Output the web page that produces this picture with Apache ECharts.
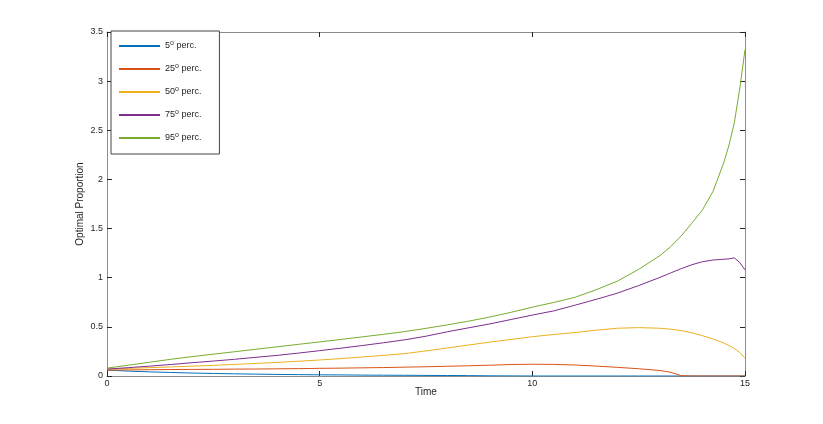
<!DOCTYPE html>
<html>
<head>
<meta charset="utf-8">
<script src="https://cdn.jsdelivr.net/npm/echarts@6/dist/echarts.min.js"></script>
<style>
  html, body { margin: 0; padding: 0; background: #fff; }
  #chart { width: 823px; height: 424px; }
</style>
</head>
<body>
<div id="chart"></div>
<script>
// time points (finer near the end where the 95th percentile shoots up)
var times = [0, 0.5, 1, 1.5, 2, 2.5, 3, 3.5, 4, 4.5, 5, 5.5, 6, 6.5, 7, 7.5, 8, 8.5, 9, 9.5,
             10, 10.5, 11, 11.5, 12, 12.5, 13, 13.25, 13.5, 13.75, 14, 14.25, 14.5, 14.625, 14.75, 14.875, 15];

var p5  = [0.060, 0.050, 0.042, 0.036, 0.030, 0.026, 0.022, 0.019, 0.016, 0.014, 0.012, 0.011, 0.009, 0.008, 0.007, 0.006, 0.005, 0.004, 0.002, 0.001,
           0, 0, 0, 0, 0, 0, 0, 0, 0, 0, 0, 0, 0, 0, 0, 0, 0];
var p25 = [0.060, 0.062, 0.064, 0.066, 0.067, 0.068, 0.070, 0.071, 0.073, 0.075, 0.078, 0.080, 0.083, 0.086, 0.090, 0.094, 0.099, 0.104, 0.110, 0.117,
           0.120, 0.118, 0.112, 0.101, 0.088, 0.074, 0.056, 0.038, 0.004, 0, 0, 0, 0, 0, 0, 0, 0];
var p50 = [0.070, 0.077, 0.085, 0.092, 0.100, 0.108, 0.118, 0.128, 0.138, 0.150, 0.163, 0.177, 0.193, 0.210, 0.228, 0.255, 0.285, 0.315, 0.345, 0.372,
           0.400, 0.422, 0.442, 0.466, 0.486, 0.492, 0.486, 0.476, 0.462, 0.440, 0.410, 0.376, 0.336, 0.310, 0.280, 0.240, 0.180];
var p75 = [0.070, 0.085, 0.100, 0.117, 0.135, 0.152, 0.170, 0.190, 0.210, 0.233, 0.258, 0.283, 0.310, 0.338, 0.368, 0.405, 0.450, 0.490, 0.530, 0.575,
           0.620, 0.662, 0.720, 0.780, 0.843, 0.920, 1.003, 1.048, 1.092, 1.132, 1.163, 1.180, 1.188, 1.192, 1.202, 1.155, 1.080];
var p95 = [0.080, 0.110, 0.140, 0.170, 0.197, 0.222, 0.247, 0.272, 0.297, 0.322, 0.347, 0.372, 0.398, 0.424, 0.452, 0.485, 0.520, 0.558, 0.600, 0.648,
           0.700, 0.748, 0.800, 0.878, 0.965, 1.085, 1.225, 1.315, 1.425, 1.555, 1.690, 1.880, 2.170, 2.350, 2.580, 2.920, 3.320];

var seriesNames = ['5{sup|o} perc.', '25{sup|o} perc.', '50{sup|o} perc.', '75{sup|o} perc.', '95{sup|o} perc.'];
var seriesColors = ['#0072BD', '#D95319', '#EDB120', '#7E2F8E', '#77AC30'];
var seriesValues = [p5, p25, p50, p75, p95];

var xTicks = [0, 15, 5];      // min, max, interval
var yTicks = [0, 3.5, 0.5];

function pairs(vals) {
  return times.map(function (t, i) { return [t, vals[i]]; });
}

var chart = echarts.init(document.getElementById('chart'));

var axisLineStyle = { color: '#8c8c8c', width: 1 };
var tickStyle = { color: '#262626', width: 1 };
var fontFam = '"Liberation Sans", Arial, sans-serif';

// box axes (top / right) only carry ticks, no labels
function boxAxis(pos, ticks) {
  return {
    type: 'value',
    position: pos,
    min: ticks[0], max: ticks[1], interval: ticks[2],
    axisLine: { show: true, onZero: false, lineStyle: axisLineStyle },
    axisTick: { show: true, inside: true, length: 5, lineStyle: tickStyle },
    axisLabel: { show: false },
    splitLine: { show: false }
  };
}

var option = {
  animation: false,
  backgroundColor: '#fff',
  grid: { left: 107, right: 78, top: 32, bottom: 48 },
  legend: {
    orient: 'vertical',
    left: 111,
    top: 31,
    padding: [9, 18, 10, 8],
    itemGap: 11,
    itemWidth: 41,
    itemHeight: 2,
    icon: 'rect',
    borderColor: '#444',
    borderWidth: 1,
    backgroundColor: '#fff',
    data: seriesNames,
    textStyle: {
      fontFamily: fontFam,
      fontSize: 9,
      color: '#262626',
      lineHeight: 12,
      rich: {
        sup: { fontSize: 7, fontFamily: fontFam, color: '#262626', padding: [0, 0, 5, 0] }
      }
    }
  },
  xAxis: [{
    type: 'value',
    min: xTicks[0], max: xTicks[1], interval: xTicks[2],
    name: 'Time',
    nameLocation: 'middle',
    nameGap: 11,
    nameMoveOverlap: false,
    nameTextStyle: { fontFamily: fontFam, fontSize: 10, color: '#262626' },
    axisLine: { show: true, onZero: false, lineStyle: axisLineStyle },
    axisTick: { show: true, inside: true, length: 5, lineStyle: tickStyle },
    axisLabel: { fontFamily: fontFam, fontSize: 9, color: '#262626', margin: 3 },
    splitLine: { show: false }
  }, boxAxis('top', xTicks)],
  yAxis: [{
    type: 'value',
    min: yTicks[0], max: yTicks[1], interval: yTicks[2],
    name: 'Optimal Proportion',
    nameLocation: 'middle',
    nameGap: 22,
    nameMoveOverlap: false,
    nameTextStyle: { fontFamily: fontFam, fontSize: 10, color: '#262626' },
    axisLine: { show: true, onZero: false, lineStyle: axisLineStyle },
    axisTick: { show: true, inside: true, length: 5, lineStyle: tickStyle },
    axisLabel: { fontFamily: fontFam, fontSize: 9, color: '#262626', margin: 4 },
    splitLine: { show: false }
  }, boxAxis('right', yTicks)],
  series: seriesNames.map(function (name, i) {
    return {
      name: name,
      type: 'line',
      xAxisIndex: 0,
      yAxisIndex: 0,
      showSymbol: false,
      symbol: 'none',
      smooth: false,
      color: seriesColors[i],
      lineStyle: { color: seriesColors[i], width: 1 },
      data: pairs(seriesValues[i])
    };
  })
};

chart.setOption(option);
</script>
</body>
</html>
